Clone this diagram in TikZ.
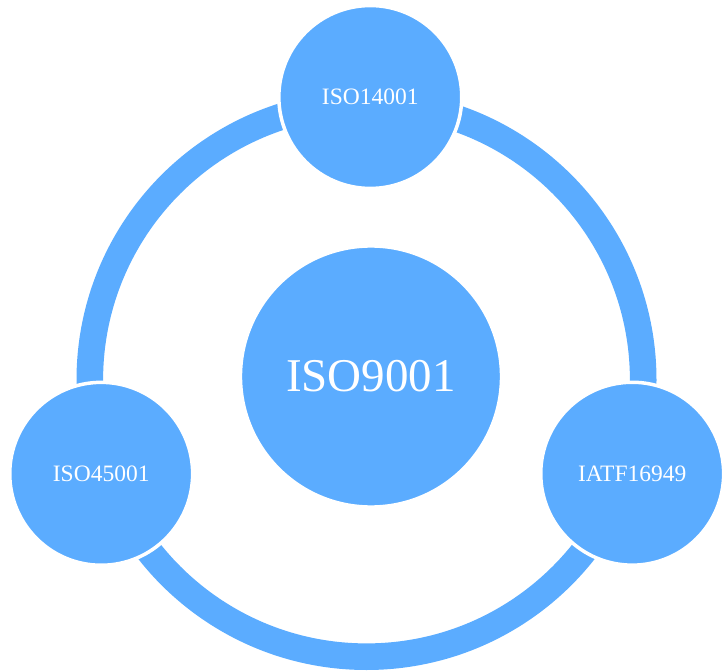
\documentclass[tikz,border=0pt]{standalone}
\usepackage{fontspec}
\setmainfont{Liberation Serif}
\definecolor{skyblue}{RGB}{91,172,255}
\begin{document}
\begin{tikzpicture}[x=1pt,y=-1pt,
  ring/.style={draw=skyblue,line width=26.6pt},
  disc/.style={circle,fill=skyblue,draw=white,line width=3.5pt,
    text=white,inner sep=0pt,minimum size=182.9pt,
    font=\fontsize{23.5}{28}\selectfont},
  hub/.style={disc,minimum size=261.1pt,
    font=\fontsize{47}{56}\selectfont}]
  \useasboundingbox (0,0) rectangle (726,671);
  % outer cycle joining the standards
  \coordinate (mid) at (366.5,380);
  \draw[ring] (mid) circle (276.7);
  % central standard
  \node[hub] (core) at (371,376.5) {ISO9001};
  % related standards on the cycle
  \node[disc] (env) at (370.3,97) {ISO14001};
  \node[disc] (ohs) at (101.2,473.8) {ISO45001};
  \node[disc] (auto) at (632.2,473.7) {IATF16949};
\end{tikzpicture}
\end{document}
